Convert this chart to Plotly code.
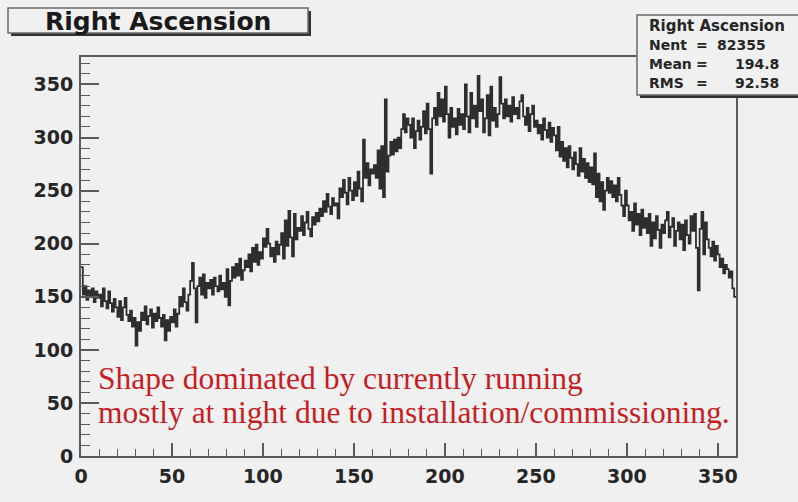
import numpy as np
import plotly.graph_objects as go

# ---- histogram definition -------------------------------------------------
hist_title = "Right Ascension"
ra_min, ra_max, n_bins = 0, 360, 360

# bin contents, one per degree of right ascension
counts = [
    178, 152, 160, 147, 156, 150, 158, 145, 155, 149,
    152, 141, 158, 146, 139, 155, 144, 136, 148, 140,
    131, 146, 128, 140, 149, 133, 127, 137, 122, 130,
    104, 126, 118, 135, 128, 141, 124, 132, 138, 121,
    134, 127, 140, 130, 122, 133, 109, 128, 118, 131,
    126, 138, 122, 134, 150, 141, 158, 145, 137, 152,
    165, 182, 158, 126, 160, 168, 152, 171, 149, 163,
    158, 166, 152, 168, 160, 155, 170, 157, 163, 150,
    176, 142, 165, 178, 168, 181, 170, 186, 166, 175,
    184, 178, 190, 174, 196, 183, 199, 180, 192, 186,
    205, 197, 214, 200, 188, 196, 183, 202, 190, 199,
    210, 186, 222, 198, 231, 206, 188, 228, 204, 215,
    212, 226, 208, 220, 230, 214, 207, 225, 218, 229,
    221, 233, 226, 240, 230, 247, 235, 228, 243, 236,
    238, 224, 252, 244, 260, 248, 237, 262, 250, 241,
    258, 245, 268, 252, 240, 298, 262, 276, 255, 270,
    266, 274, 262, 288, 252, 292, 244, 336, 268, 283,
    296, 284, 298, 287, 300, 290, 308, 322, 305, 318,
    312, 300, 318, 290, 306, 316, 298, 310, 325, 304,
    332, 308, 266, 318, 328, 312, 342, 320, 336, 315,
    348, 322, 300, 328, 310, 318, 303, 327, 312, 322,
    308, 350, 320, 305, 342, 318, 330, 310, 358, 325,
    336, 305, 318, 340, 302, 348, 316, 328, 310, 322,
    357, 332, 318, 336, 320, 330, 315, 338, 322, 328,
    318, 334, 340, 320, 312, 328, 306, 322, 330, 310,
    316, 304, 312, 298, 318, 307, 300, 314, 296, 309,
    302, 288, 310, 282, 296, 278, 290, 272, 292, 281,
    270, 286, 275, 264, 290, 268, 280, 262, 276, 258,
    272, 256, 285, 244, 266, 240, 258, 232, 250, 262,
    248, 259, 244, 255, 240, 262, 246, 236, 226, 250,
    236, 222, 230, 212, 238, 218, 228, 208, 232, 215,
    224, 210, 228, 198, 220, 205, 226, 213, 196, 218,
    210, 222, 230, 206, 216, 224, 198, 212, 220, 204,
    218, 194, 222, 208, 200, 226, 212, 228, 196, 156,
    214, 230, 190, 220, 204, 196, 188, 202, 184, 198,
    190, 178, 186, 172, 180, 176, 168, 174, 158, 150,
]

# statistics box entries
stat_nent = "82355"
stat_mean = "194.8"
stat_rms = "92.58"

note_lines = [
    "Shape dominated by currently running",
    "mostly at night due to installation/commissioning.",
]

x_tick_vals = [0, 50, 100, 150, 200, 250, 300, 350]
y_tick_vals = [0, 50, 100, 150, 200, 250, 300, 350]

# ---- page geometry --------------------------------------------------------
W, H = 798, 502
ML, MR, MT, MB = 81, 62, 57, 46
PW, PH = W - ML - MR, H - MT - MB

BG = "#f0f0f0"
FRAME = "#5a5a5a"
SANS = "DejaVu Sans"


def px(xp):
    return (xp - ML) / PW


def py(yp):
    return (H - MB - yp) / PH


edges = np.linspace(ra_min, ra_max, n_bins + 1)
step_y = list(counts) + [counts[-1]]

fig = go.Figure()
fig.add_trace(
    go.Scatter(
        x=edges,
        y=step_y,
        mode="lines",
        line=dict(shape="hv", color="#2e2e2e", width=1.8),
        hoverinfo="skip",
        showlegend=False,
    )
)

y_top = 1.05 * max(counts)

tick_font = dict(family=SANS, size=19, color="#262626", weight="bold")

fig.update_layout(
    width=W,
    height=H,
    margin=dict(l=ML, r=MR, t=MT, b=MB, pad=0),
    paper_bgcolor=BG,
    plot_bgcolor=BG,
    showlegend=False,
    xaxis=dict(
        range=[ra_min, ra_max],
        tickvals=x_tick_vals,
        ticktext=[str(v) for v in x_tick_vals],
        ticks="inside",
        ticklen=13,
        tickwidth=1.5,
        tickcolor=FRAME,
        minor=dict(ticks="inside", ticklen=7, tickwidth=1.3, tickcolor=FRAME, dtick=10, tick0=0),
        showline=True,
        linecolor=FRAME,
        linewidth=2,
        mirror=True,
        showgrid=False,
        zeroline=False,
        tickfont=tick_font,
        ticklabelstandoff=2,
    ),
    yaxis=dict(
        range=[0, y_top],
        tickvals=y_tick_vals,
        ticktext=[str(v) for v in y_tick_vals],
        ticks="inside",
        ticklen=18,
        tickwidth=1.5,
        tickcolor=FRAME,
        minor=dict(ticks="inside", ticklen=9, tickwidth=1.3, tickcolor=FRAME, dtick=10, tick0=0),
        showline=True,
        linecolor=FRAME,
        linewidth=2,
        mirror=True,
        showgrid=False,
        zeroline=False,
        tickfont=tick_font,
        ticklabelstandoff=2,
    ),
)


def boxed(x0, y0, x1, y1):
    # drop shadow along the right and bottom edges, then the box itself
    fig.add_shape(type="rect", xref="paper", yref="paper",
                  x0=px(x0 + 3), x1=px(x1 + 3), y0=py(y1 + 3), y1=py(y0 + 3),
                  fillcolor="#333333", line=dict(width=0), layer="above")
    fig.add_shape(type="rect", xref="paper", yref="paper",
                  x0=px(x0), x1=px(x1), y0=py(y1), y1=py(y0),
                  fillcolor=BG, line=dict(color="#6a6a6a", width=1.5), layer="above")


# histogram title box
boxed(8, 8, 308, 33)
fig.add_annotation(x=px(158), y=py(21), xref="paper", yref="paper",
                   text=hist_title, showarrow=False, xanchor="center", yanchor="middle",
                   font=dict(family=SANS, size=25, color="#1a1a1a", weight="bold"))

# statistics box
boxed(637, 15, 806, 95)
stat_font = dict(family=SANS, size=14, color="#262626", weight="bold")
fig.add_annotation(x=px(647), y=py(26), xref="paper", yref="paper", text=hist_title,
                   showarrow=False, xanchor="left", yanchor="middle",
                   font=dict(family=SANS, size=15, color="#262626", weight="bold"))
stat_rows = [("Nent", stat_nent, 45, 768), ("Mean", stat_mean, 64, 781), ("RMS", stat_rms, 83, 781)]
for label, value, yy, xr in stat_rows:
    fig.add_annotation(x=px(647), y=py(yy), xref="paper", yref="paper", text=label,
                       showarrow=False, xanchor="left", yanchor="middle", font=stat_font)
    fig.add_annotation(x=px(702), y=py(yy), xref="paper", yref="paper", text="=",
                       showarrow=False, xanchor="center", yanchor="middle", font=stat_font)
    fig.add_annotation(x=px(xr), y=py(yy), xref="paper", yref="paper", text=value,
                       showarrow=False, xanchor="right", yanchor="middle", font=stat_font)

# red explanatory note inside the frame
note_font = dict(family="Liberation Serif", size=31.5, color="#c41e24")
for i, line in enumerate(note_lines):
    fig.add_annotation(x=px(96), y=py(378 + 34 * i), xref="paper", yref="paper", text=line,
                       showarrow=False, xanchor="left", yanchor="middle", font=note_font)

fig.write_html("out.html")
